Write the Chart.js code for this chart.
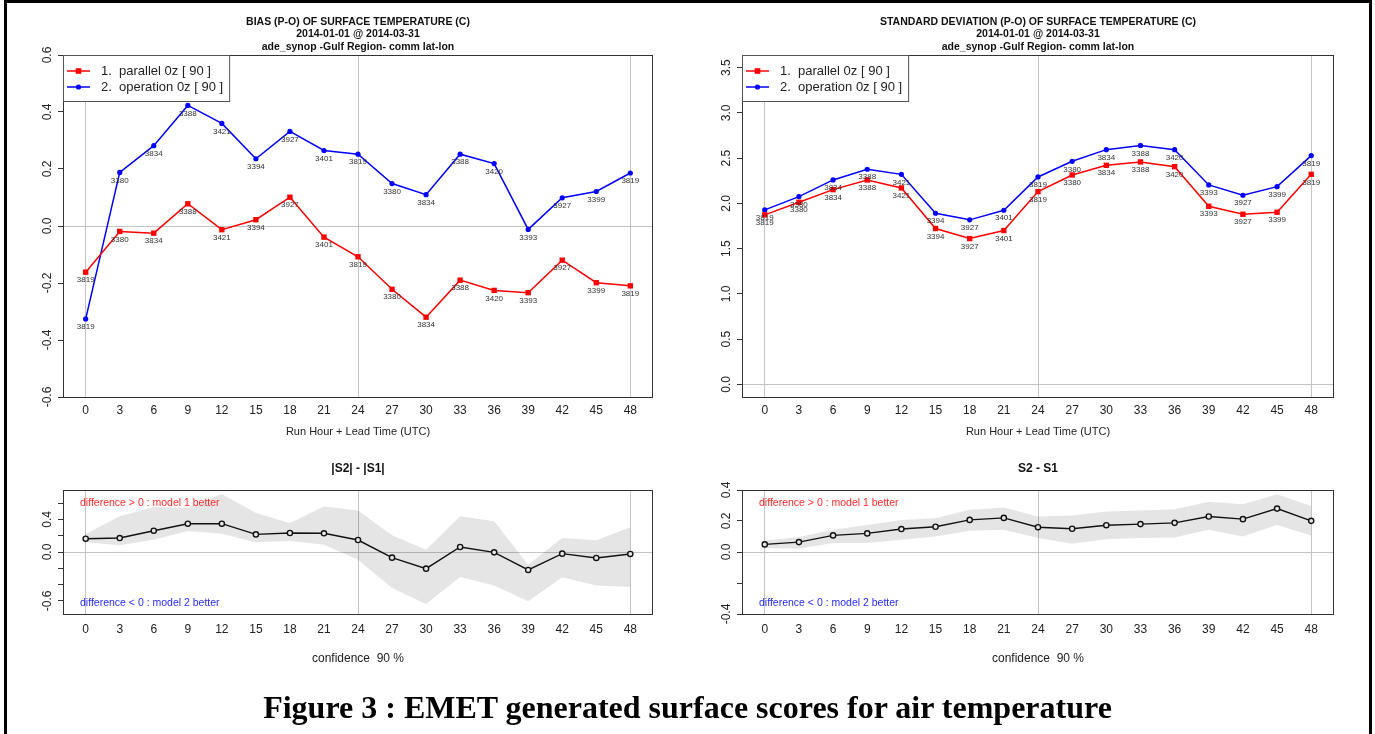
<!DOCTYPE html>
<html lang="en">
<head>
<meta charset="UTF-8">
<title>EMET surface scores</title>
<script src="https://cdn.jsdelivr.net/npm/chart.js@4.4.1/dist/chart.umd.min.js"></script>
<style>
  body { margin: 0; background: #fff; }
  #page { position: relative; width: 1375px; height: 734px; overflow: hidden; }
  #frame { position: absolute; left: 4px; top: 0; width: 1362px; height: 800px; border: 3px solid #000; }
  canvas { position: absolute; }
  #caption { position: absolute; left: 0; top: 689px; width: 1375px; line-height: 36px; text-align: center;
             font: bold 32px "Liberation Serif", "Times New Roman", serif; color: #000; }
</style>
</head>
<body>
<div id="page">
  <div id="frame"></div>
  <canvas id="biasChart" width="690" height="445" style="left:0;top:0"></canvas>
  <canvas id="stdChart" width="685" height="445" style="left:690px;top:0"></canvas>
  <canvas id="absDiffChart" width="690" height="289" style="left:0;top:445px"></canvas>
  <canvas id="sdDiffChart" width="685" height="289" style="left:690px;top:445px"></canvas>
  <div id="caption">Figure 3 : EMET generated surface scores for air temperature</div>
</div>
<script>
// lead times (run hour + lead time, UTC)
const leadHours = [0, 3, 6, 9, 12, 15, 18, 21, 24, 27, 30, 33, 36, 39, 42, 45, 48];
const refHours = [0, 24, 48];
// number of obs written under each point
const obsCounts = [3819, 3380, 3834, 3388, 3421, 3394, 3927, 3401, 3819, 3380, 3834, 3388, 3420, 3393, 3927, 3399, 3819];

// BIAS (P-O)
const biasParallel = [-0.162, -0.019, -0.025, 0.078, -0.013, 0.022, 0.101, -0.039, -0.108, -0.222, -0.320, -0.190, -0.226, -0.234, -0.120, -0.199, -0.210];
const biasOperation = [-0.326, 0.188, 0.282, 0.423, 0.360, 0.236, 0.332, 0.265, 0.252, 0.149, 0.110, 0.252, 0.219, -0.012, 0.099, 0.121, 0.186];
const biasTicks = [-0.6, -0.4, -0.2, 0, 0.2, 0.4, 0.6];

// STANDARD DEVIATION (P-O)
const stdParallel = [1.873, 2.012, 2.152, 2.259, 2.171, 1.722, 1.611, 1.700, 2.130, 2.314, 2.421, 2.458, 2.406, 1.968, 1.880, 1.902, 2.321];
const stdOperation = [1.928, 2.075, 2.259, 2.377, 2.321, 1.891, 1.818, 1.924, 2.292, 2.465, 2.594, 2.641, 2.594, 2.204, 2.090, 2.185, 2.528];
const stdTicks = [0, 0.5, 1, 1.5, 2, 2.5, 3, 3.5];

// |S2| - |S1| with 90% confidence band
const absDiff = [0.163, 0.171, 0.261, 0.347, 0.347, 0.216, 0.233, 0.229, 0.147, -0.069, -0.204, 0.061, -0.004, -0.220, -0.020, -0.073, -0.024];
const absDiffHigh = [0.22, 0.437, 0.551, 0.543, 0.710, 0.478, 0.355, 0.559, 0.510, 0.204, 0.029, 0.437, 0.376, -0.155, 0.171, 0.143, 0.302];
const absDiffLow = [0.12, 0.082, 0.151, 0.257, 0.224, 0.118, 0.135, 0.090, -0.094, -0.441, -0.637, -0.306, -0.412, -0.604, -0.310, -0.412, -0.429];
const absDiffTicks = [-0.6, -0.4, -0.2, 0, 0.2, 0.4, 0.6];
const absDiffShown = [0.4, 0, -0.6];

// S2 - S1 with 90% confidence band
const sdDiff = [0.049, 0.064, 0.107, 0.120, 0.148, 0.163, 0.207, 0.220, 0.160, 0.150, 0.173, 0.180, 0.188, 0.229, 0.212, 0.280, 0.201];
const sdDiffHigh = [0.075, 0.096, 0.143, 0.175, 0.207, 0.218, 0.272, 0.287, 0.229, 0.235, 0.261, 0.267, 0.276, 0.325, 0.308, 0.372, 0.297];
const sdDiffLow = [0.026, 0.021, 0.058, 0.058, 0.079, 0.100, 0.137, 0.143, 0.090, 0.053, 0.083, 0.090, 0.094, 0.143, 0.100, 0.175, 0.107];
const sdDiffTicks = [-0.4, -0.2, 0, 0.2, 0.4];
const sdDiffShown = [0.4, 0.2, 0, -0.4];

const FONT = '"Liberation Sans", Arial, Helvetica, sans-serif';
Chart.defaults.font.family = FONT;
Chart.defaults.color = '#222';

const near = (a, b) => Math.abs(a - b) < 1e-9;

function xAxis(pad) {
  return {
    type: 'linear', min: -2, max: 50,
    afterBuildTicks: s => { s.ticks = leadHours.map(v => ({ value: v })); },
    afterFit: s => { s.height = 30; },
    ticks: { autoSkip: false, maxRotation: 0, padding: pad, font: { size: 12 }, color: '#222', callback: v => String(v) },
    grid: {
      drawTicks: false, lineWidth: 1,
      color: c => (c.tick && refHours.some(h => near(h, c.tick.value))) ? '#c4c4c4' : 'rgba(0,0,0,0)'
    },
    border: { display: false }
  };
}

function yAxis(min, max, tickVals, shown, pad) {
  return {
    type: 'linear', min: min, max: max,
    afterBuildTicks: s => { s.ticks = tickVals.map(v => ({ value: v })); },
    afterFit: s => { s.width = 30; },
    ticks: {
      autoSkip: false, minRotation: 90, maxRotation: 90, crossAlign: 'center', padding: pad,
      font: { size: 12 }, color: '#222',
      callback: v => (!shown || shown.some(s => near(s, v))) ? v.toFixed(1) : ''
    },
    grid: {
      drawTicks: true, tickLength: 5, tickColor: '#333', lineWidth: 1,
      color: c => (c.tick && near(c.tick.value, 0)) ? '#c4c4c4' : 'rgba(0,0,0,0)'
    },
    border: { display: false }
  };
}

// draws the R-style box, titles, legend, counts and notes
function decor(cfg) {
  return {
    id: 'decor',
    afterDatasetsDraw(chart) {
      const ctx = chart.ctx;
      ctx.save();
      ctx.font = '8px ' + FONT;
      ctx.fillStyle = '#333';
      ctx.textAlign = 'center';
      ctx.textBaseline = 'middle';
      chart.data.datasets.forEach((ds, i) => {
        if (!ds.pointLabels) return;
        chart.getDatasetMeta(i).data.forEach((p, j) => {
          ctx.fillText(String(ds.pointLabels[j]), p.x, p.y + 8);
        });
      });
      ctx.restore();
    },
    afterDraw(chart) {
      const ctx = chart.ctx;
      const a = chart.chartArea;
      const cx = (a.left + a.right) / 2;
      ctx.save();
      ctx.strokeStyle = '#333';
      ctx.lineWidth = 1;
      ctx.strokeRect(a.left + 0.5, a.top + 0.5, a.width - 1, a.height);

      ctx.textAlign = 'center';
      ctx.textBaseline = 'middle';
      ctx.fillStyle = '#111';
      cfg.titles.forEach(t => {
        ctx.font = t.font + ' ' + FONT;
        ctx.fillText(t.text, cx, a.top + t.dy);
      });
      if (cfg.xTitle) {
        ctx.font = cfg.xTitle.font + ' ' + FONT;
        ctx.fillStyle = '#222';
        ctx.fillText(cfg.xTitle.text, cx, a.bottom + cfg.xTitle.dy);
      }

      if (cfg.legend) {
        const items = chart.data.datasets.filter(d => d.label);
        ctx.font = '13px ' + FONT;
        const w = 38 + Math.max(...items.map(d => ctx.measureText(d.label).width)) + 6;
        const h = 46;
        ctx.fillStyle = '#fff';
        ctx.fillRect(a.left + 1, a.top + 1, w, h);
        ctx.strokeStyle = '#555';
        ctx.strokeRect(a.left + 0.5, a.top + 0.5, w, h);
        items.forEach((d, k) => {
          const y = a.top + 16 + k * 16;
          ctx.strokeStyle = d.borderColor;
          ctx.lineWidth = 1.5;
          ctx.beginPath();
          ctx.moveTo(a.left + 4, y);
          ctx.lineTo(a.left + 27, y);
          ctx.stroke();
          ctx.fillStyle = d.borderColor;
          if (d.pointStyle === 'rect') {
            ctx.fillRect(a.left + 15.5 - 2.8, y - 2.8, 5.6, 5.6);
          } else {
            ctx.beginPath();
            ctx.arc(a.left + 15.5, y, 2.6, 0, Math.PI * 2);
            ctx.fill();
          }
          ctx.fillStyle = '#222';
          ctx.textAlign = 'left';
          ctx.fillText(d.label, a.left + 38, y);
        });
      }

      if (cfg.notes) {
        ctx.font = '10.5px ' + FONT;
        ctx.textAlign = 'left';
        ctx.fillStyle = '#ff2a2a';
        ctx.fillText('difference > 0 : model 1 better', a.left + 17, a.top + 13);
        ctx.fillStyle = '#2a2aff';
        ctx.fillText('difference < 0 : model 2 better', a.left + 17, a.bottom - 11);
      }
      ctx.restore();
    }
  };
}

function scoreLines(parallel, operation) {
  return [
    { label: '1.  parallel 0z [ 90 ]', data: parallel, borderColor: '#ff0000', backgroundColor: '#ff0000',
      borderWidth: 1.5, pointStyle: 'rect', pointRadius: 3.8, pointBorderWidth: 0, pointLabels: obsCounts, fill: false },
    { label: '2.  operation 0z [ 90 ]', data: operation, borderColor: '#0000ff', backgroundColor: '#0000ff',
      borderWidth: 1.5, pointStyle: 'circle', pointRadius: 2.6, pointBorderWidth: 0, pointLabels: obsCounts, fill: false }
  ];
}

function diffLines(mean, high, low) {
  return [
    { data: mean, borderColor: '#111', borderWidth: 1.4, pointStyle: 'circle', pointRadius: 2.6,
      pointBorderWidth: 1.4, pointBorderColor: '#111', pointBackgroundColor: '#e6e6e6', fill: false },
    { data: high, borderColor: 'rgba(0,0,0,0)', borderWidth: 1, pointRadius: 0, fill: '+1', backgroundColor: 'rgba(0,0,0,0.1)' },
    { data: low, borderColor: 'rgba(0,0,0,0)', borderWidth: 1, pointRadius: 0, fill: false }
  ];
}

function makeChart(id, datasets, y, xPad, padding, cfg) {
  return new Chart(document.getElementById(id), {
    type: 'line',
    data: { labels: leadHours, datasets: datasets },
    options: {
      responsive: false, animation: false, devicePixelRatio: 1, events: [],
      layout: { padding: padding },
      plugins: { legend: { display: false }, tooltip: { enabled: false } },
      scales: { x: xAxis(xPad), y: y }
    },
    plugins: [decor(cfg)]
  });
}

makeChart('biasChart', scoreLines(biasParallel, biasOperation),
  yAxis(-0.6, 0.6, biasTicks, null, 0), 6,
  { left: 33, right: 37, top: 55, bottom: 18 },
  {
    titles: [
      { text: 'BIAS (P-O) OF SURFACE TEMPERATURE (C)', dy: -33, font: 'bold 10.5px' },
      { text: '2014-01-01 @ 2014-03-31', dy: -21, font: 'bold 10.5px' },
      { text: 'ade_synop -Gulf Region- comm lat-lon', dy: -8, font: 'bold 10.5px' }
    ],
    xTitle: { text: 'Run Hour + Lead Time (UTC)', dy: 35, font: '11px' },
    legend: true
  });

makeChart('stdChart', scoreLines(stdParallel, stdOperation),
  yAxis(-0.14, 3.64, stdTicks, null, 2), 6,
  { left: 22, right: 41, top: 55, bottom: 18 },
  {
    titles: [
      { text: 'STANDARD DEVIATION (P-O) OF SURFACE TEMPERATURE (C)', dy: -33, font: 'bold 10.5px' },
      { text: '2014-01-01 @ 2014-03-31', dy: -21, font: 'bold 10.5px' },
      { text: 'ade_synop -Gulf Region- comm lat-lon', dy: -8, font: 'bold 10.5px' }
    ],
    xTitle: { text: 'Run Hour + Lead Time (UTC)', dy: 35, font: '11px' },
    legend: true
  });

makeChart('absDiffChart', diffLines(absDiff, absDiffHigh, absDiffLow),
  yAxis(-0.76, 0.76, absDiffTicks, absDiffShown, 0), 8,
  { left: 33, right: 37, top: 45, bottom: 90 },
  {
    titles: [{ text: '|S2| - |S1|', dy: -21, font: 'bold 12px' }],
    xTitle: { text: 'confidence  90 %', dy: 45, font: '12px' },
    notes: true
  });

makeChart('sdDiffChart', diffLines(sdDiff, sdDiffHigh, sdDiffLow),
  yAxis(-0.4, 0.4, sdDiffTicks, sdDiffShown, 0), 8,
  { left: 22, right: 41, top: 45, bottom: 90 },
  {
    titles: [{ text: 'S2 - S1', dy: -21, font: 'bold 12px' }],
    xTitle: { text: 'confidence  90 %', dy: 45, font: '12px' },
    notes: true
  });
</script>
</body>
</html>
